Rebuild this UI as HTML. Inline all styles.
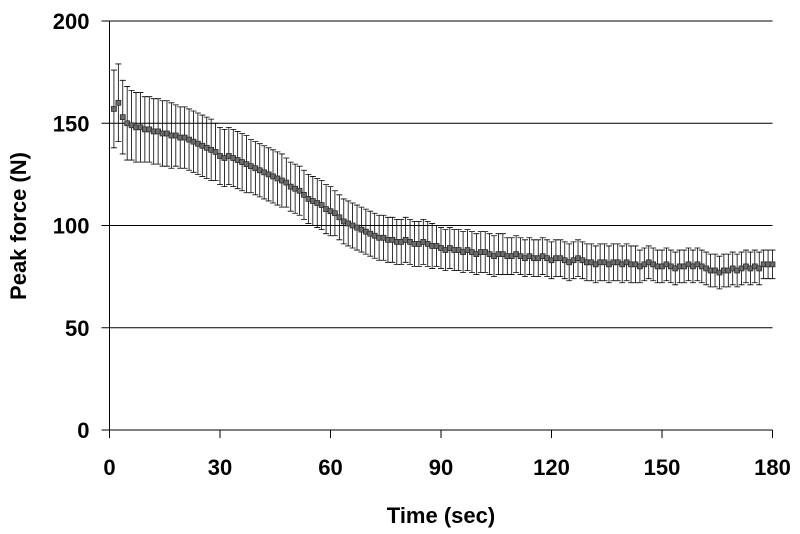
<!DOCTYPE html>
<html><head><meta charset="utf-8"><style>
body{margin:0;background:#fff;}
svg{display:block;font-family:"Liberation Sans",Arial,sans-serif;font-weight:bold;}
</style></head><body>
<svg id="chart" width="800" height="534">
<g id="grid"></g>
<g id="axes"></g>
<g id="series"></g>
<text x="441" y="523" font-size="22" text-anchor="middle" fill="#000">Time (sec)</text>
<text transform="translate(26,226) rotate(-90)" font-size="22" text-anchor="middle" fill="#000">Peak force (N)</text>
</svg>
<script>
const xTicks=[0,30,60,90,120,150,180];
const yTicks=[0,50,100,150,200];
const step=1.2;
const means=[157,160,153,150,149,148,148,147,147,146,
146,145,145,144,144,143,143,142,141,140,
139,138,137,136,134,133,134,133,132,131,
130,129,128,127,126,125,124,123,122,121,
119,118,117,115,113,112,111,110,108,107,
106,104,102,101,100,99,98,97,96,95,
94,94,93,93,92,92,93,92,91,91,
92,91,90,90,89,88,89,88,88,87,
88,87,86,87,87,86,85,86,86,85,
85,86,85,84,85,84,84,85,84,83,
84,84,83,82,83,84,83,82,82,81,
82,82,81,82,82,81,82,81,81,80,
81,82,81,80,80,81,80,79,80,80,
81,80,81,80,79,78,78,77,78,78,
79,78,79,80,79,80,79,81,81,81];
const errs=[19,19,18,18,17,17,17,16,16,16,
16,16,16,16,15,15,15,15,15,15,
15,15,15,14,14,14,14,14,14,14,
14,13,13,13,13,13,13,13,13,12,
12,12,12,12,12,12,12,12,12,12,
11,11,11,11,11,11,11,11,11,11,
11,11,11,11,11,11,11,11,11,11,
11,11,11,10,10,10,10,10,10,10,
10,10,10,10,10,10,10,10,10,9,
9,9,9,9,9,9,9,9,9,9,
9,9,9,9,9,9,9,9,9,9,
9,9,9,9,9,9,9,9,9,8,
8,8,8,8,8,8,8,8,8,8,
8,8,8,8,8,8,8,8,8,8,
8,8,8,8,8,8,8,7,7,7];
const NS="http://www.w3.org/2000/svg";
const X0=109.5,X1=772.5,Y0=430,Y1=21;
const xs=v=>X0+(v/180)*(X1-X0);
const ys=v=>Y0-(v/200)*(Y0-Y1);
function mk(tag,attrs,parent){const e=document.createElementNS(NS,tag);for(const k in attrs)e.setAttribute(k,attrs[k]);parent.appendChild(e);return e;}
const grid=document.getElementById('grid'),axes=document.getElementById('axes'),ser=document.getElementById('series');
yTicks.forEach(v=>{
  if(v>0){const l=mk('line',{x1:X0,x2:X1,y1:ys(v),y2:ys(v),stroke:'#000','stroke-width':1},grid);
  
  }
  const t=mk('line',{x1:X0-8,x2:X0,y1:ys(v),y2:ys(v),stroke:'#000'},axes);
  
  
  const tx=mk('text',{x:X0-20,y:ys(v)+8,'font-size':22,'text-anchor':'end',fill:'#000'},axes);tx.textContent=v;
  
  
});
xTicks.forEach(v=>{
  const t=mk('line',{x1:xs(v),x2:xs(v),y1:Y0,y2:Y0+8,stroke:'#000'},axes);
  
  
  const tx=mk('text',{x:xs(v),y:Y0+45,'font-size':22,'text-anchor':'middle',fill:'#000'},axes);tx.textContent=v;
  
  
});
const ya=mk('line',{x1:X0,x2:X0,y1:Y1,y2:Y0+8,stroke:'#000'},axes);


const xa=mk('line',{x1:X0-8,x2:X1,y1:Y0,y2:Y0,stroke:'#000'},axes);


means.forEach((m,i)=>{
  const t=(i+1)*step,x=xs(t),e=errs[i];
  const eb=mk('path',{d:`M${x},${ys(m+e)}V${ys(m-e)}M${x-3},${ys(m+e)}H${x+3}M${x-3},${ys(m-e)}H${x+3}`,stroke:'#000','stroke-width':0.8,fill:'none'},ser);
  
  
});
means.forEach((m,i)=>{
  const t=(i+1)*step,x=xs(t);
  const p=mk('rect',{x:x-2.5,y:ys(m)-2.5,width:5,height:5,fill:'#6a6a6a',stroke:'#222','stroke-width':0.7},ser);
  
  
});
</script>
</body></html>
